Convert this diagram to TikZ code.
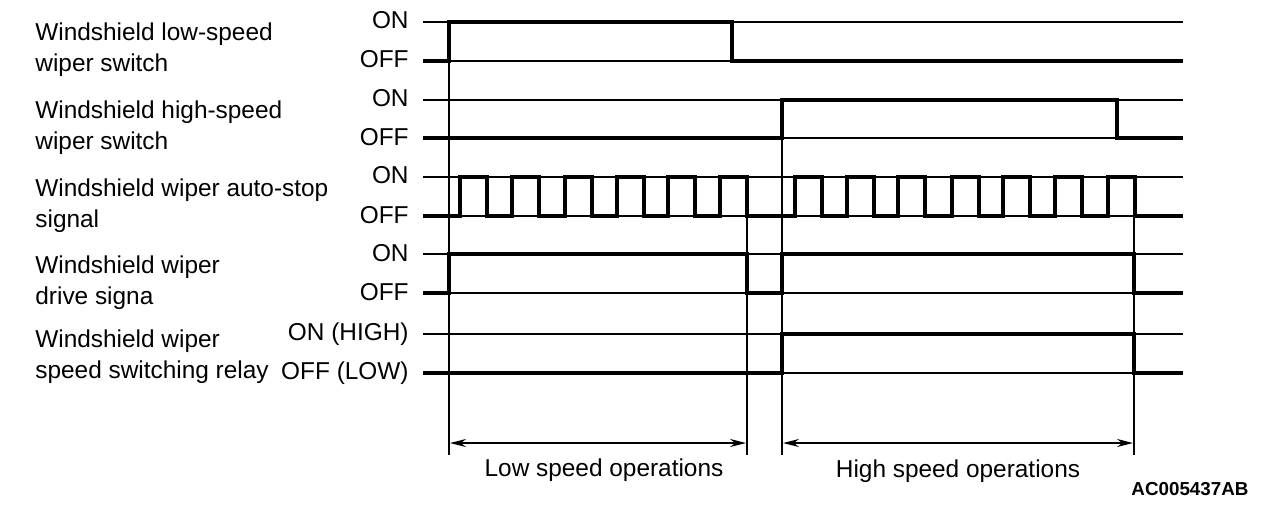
\documentclass[tikz,border=0pt]{standalone}
\usepackage{fontspec}
\setmainfont{Liberation Sans}
\usetikzlibrary{arrows.meta}

\begin{document}
\begin{tikzpicture}[x=0.5pt,y=-0.5pt,
        grid/.style={line width=0.7pt},
        sig/.style={line width=2pt},
        lvl/.style={anchor=east,inner sep=0pt,font=\fontsize{12.2}{15.5}\selectfont},
        lbl/.style={anchor=west,inner sep=0pt,align=left,font=\fontsize{12.2}{15.5}\selectfont},
        dim/.style={line width=0.7pt,{Stealth[length=8pt,width=4pt]}-{Stealth[length=8pt,width=4pt]}}]

        \useasboundingbox (0,0) rectangle (1280,526);

        \node[lbl] (lowsw) at (35,50) {Windshield low-speed\\wiper switch};
        \node[lbl] (highsw) at (35,128) {Windshield high-speed\\wiper switch};
        \node[lbl] (autostop) at (35,206) {Windshield wiper auto-stop\\signal};
        \node[lbl] (drive) at (35,283) {Windshield wiper\\drive signa};
        \node[lbl] (relay) at (35,357) {Windshield wiper\\speed switching relay};

        \node[lvl] (on1) at (409,20) {ON};
        \node[lvl] (off1) at (409,59) {OFF};
        \node[lvl] (on2) at (409,98) {ON};
        \node[lvl] (off2) at (409,137) {OFF};
        \node[lvl] (on3) at (409,175) {ON};
        \node[lvl] (off3) at (409,215) {OFF};
        \node[lvl] (on4) at (409,253) {ON};
        \node[lvl] (off4) at (409,292) {OFF};
        \node[lvl] (on5) at (409,334) {ON (HIGH)};
        \node[lvl] (off5) at (409,373) {OFF (LOW)};

        \foreach \y in {22,61,100,138,177,216,254,293,334,373}
            \draw[grid] (423,\y) -- (1183,\y);

        \draw[grid] (449,22) -- (449,455);
        \draw[grid] (747,216) -- (747,455);
        \draw[grid] (782,100) -- (782,455);
        \draw[grid] (1134,216) -- (1134,455);

        \draw[sig] (423,61) -- (449,61) -- (449,22) -- (732,22) -- (732,61) -- (1183,61);
        \draw[sig] (423,138) -- (782,138) -- (782,100) -- (1117,100) -- (1117,138) -- (1183,138);
        \draw[sig] (423,216)
            foreach \x in {460,512,565,617,668,720,795,847,898,952,1003,1055,1108}
            { -- (\x,216) -- (\x,177) -- ({\x+27},177) -- ({\x+27},216) }
            -- (1183,216);
        \draw[sig] (423,293) -- (449,293) -- (449,254) -- (747,254) -- (747,293)
            -- (782,293) -- (782,254) -- (1134,254) -- (1134,293) -- (1183,293);
        \draw[sig] (423,373) -- (782,373) -- (782,334) -- (1134,334) -- (1134,373) -- (1183,373);

        \coordinate (lowL) at (450,443);
        \coordinate (lowR) at (746,443);
        \coordinate (highL) at (783,443);
        \coordinate (highR) at (1133,443);
        \draw[dim] (lowL) -- (lowR);
        \draw[dim] (highL) -- (highR);

        \node[font=\fontsize{12.2}{15.5}\selectfont] (lowop) at (604,470) {Low speed operations};
        \node[font=\fontsize{12.2}{15.5}\selectfont] (highop) at (958,471) {High speed operations};
        \node[font=\fontsize{9.4}{11}\selectfont\bfseries] (code) at (1190,489) {AC005437AB};

    \end{tikzpicture}
\end{document}
